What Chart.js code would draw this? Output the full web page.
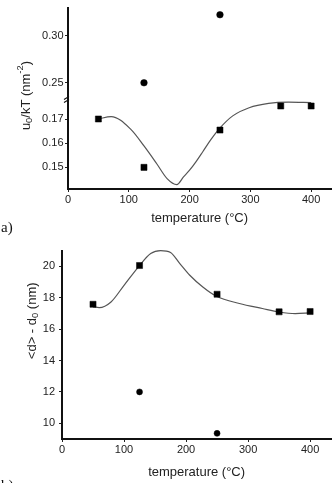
<!DOCTYPE html>
<html>
<head>
<title>Temperature dependence</title>
<script src="https://cdn.jsdelivr.net/npm/chart.js@4.4.0/dist/chart.umd.min.js"></script>
<style>
  body { margin: 0; background: #fff; }
  .wrap { position: absolute; left: 0; width: 336px; }
  .tag { position: absolute; left: 1px; font-family: "Liberation Serif", serif; font-size: 15px; line-height: 15px; color: #111; }
</style>
</head>
<body>
<div class="wrap" style="top:0;height:236px"><canvas id="chartA"></canvas></div>
<div class="wrap" style="top:240px;height:243px"><canvas id="chartB"></canvas></div>
<div class="tag" style="top:220px">a)</div>
<div class="tag" style="top:478px">b)</div>
<script>
// panel a: u0/kT vs temperature
var tempA = [50, 125, 250, 350, 400];
var uSquares = [0.1701, 0.150, 0.1655, 0.1755, 0.1755];
var tempCirclesA = [125, 250];
var uCircles = [0.250, 0.322];
var fitTempA = [50, 71, 103, 125, 146, 163, 179, 190, 200, 211, 222, 235, 249, 271, 298, 330, 363, 400];
var fitA = [0.1701, 0.1711, 0.1659, 0.1589, 0.1515, 0.1453, 0.1428, 0.1460, 0.1488, 0.1525, 0.1566, 0.1615, 0.1661, 0.1714, 0.1748, 0.1766, 0.1771, 0.1769];
var yTicksLoA = [0.15, 0.16, 0.17];
var yTicksHiA = [0.25, 0.30];
var xTicks = [0, 100, 200, 300, 400];

// panel b: <d> - d0 vs temperature
var tempB = [50, 125, 250, 350, 400];
var dSquares = [17.58, 20.05, 18.22, 17.10, 17.12];
var tempCirclesB = [125, 250];
var dCircles = [12.0, 9.36];
var fitTempB = [50, 60, 79, 100, 124, 143, 159, 175, 190, 206, 227, 249, 286, 323, 350, 376, 400];
var fitB = [17.41, 17.37, 17.73, 18.79, 20.0, 20.81, 21.0, 20.88, 20.17, 19.43, 18.68, 18.09, 17.63, 17.31, 17.09, 16.99, 17.03];
var yTicksB = [10, 12, 14, 16, 18, 20];

var FONT = '"Liberation Sans", Arial, sans-serif';
var INK = '#222';

function pts(xs, ys) {
  return xs.map(function(x, i) { return {x: x, y: ys[i]}; });
}

function setTicks(list) {
  return function(scale) {
    scale.ticks = list.map(function(v) { return {value: v}; });
  };
}

// rotated y title with sub/superscripts
function drawRich(ctx, parts, size) {
  var total = 0;
  parts.forEach(function(p) {
    ctx.font = (p[1] ? size * 0.72 : size) + 'px ' + FONT;
    p.w = ctx.measureText(p[0]).width;
    total += p.w;
  });
  var x = -total / 2;
  ctx.textBaseline = 'middle';
  ctx.textAlign = 'left';
  parts.forEach(function(p) {
    ctx.font = (p[1] ? size * 0.72 : size) + 'px ' + FONT;
    var shift = p[1] == 'sub' ? size * 0.3 : (p[1] == 'sup' ? -size * 0.4 : 0);
    ctx.fillText(p[0], x, shift);
    x += p.w;
  });
}

var extras = {
  id: 'extras',
  afterDraw: function(chart, args, opts) {
    var ctx = chart.ctx, area = chart.chartArea;
    ctx.save();
    ctx.fillStyle = INK;
    ctx.translate(area.left - opts.dx, (area.top + area.bottom) / 2 + opts.dy);
    ctx.rotate(-Math.PI / 2);
    drawRich(ctx, opts.parts, 13);
    ctx.restore();
    if (opts.breakAt) {
      var s = chart.scales[opts.breakAt];
      var x = area.left, y = s.top;
      ctx.save();
      ctx.strokeStyle = '#111';
      ctx.lineWidth = 1.1;
      ctx.beginPath();
      ctx.moveTo(x - 4, y + 1); ctx.lineTo(x + 1, y - 2);
      ctx.moveTo(x - 4, y + 4); ctx.lineTo(x + 1, y + 1);
      ctx.stroke();
      ctx.restore();
    }
  }
};

function axisBase() {
  return {
    grid: {display: true, drawOnChartArea: false, drawTicks: true, tickLength: 3, color: INK},
    border: {display: true, color: '#111', width: 2},
    ticks: {color: INK, font: {family: FONT, size: 11}}
  };
}

function xAxis(max, height, titlePad) {
  var a = axisBase();
  a.type = 'linear';
  a.min = 0;
  a.max = max;
  a.afterBuildTicks = setTicks(xTicks);
  a.afterFit = function(s) { s.height = height; };
  a.ticks.padding = 1;
  a.title = {display: true, text: 'temperature (°C)', color: INK,
    font: {family: FONT, size: 13}, padding: {top: 0, bottom: titlePad}};
  return a;
}

function yAxis(min, max, ticks, width, pad, digits) {
  var a = axisBase();
  a.type = 'linear';
  a.position = 'left';
  a.min = min;
  a.max = max;
  a.afterBuildTicks = setTicks(ticks);
  a.afterFit = function(s) { s.width = width; };
  a.ticks.padding = pad;
  a.ticks.callback = function(v) { return v.toFixed(digits); };
  return a;
}

var squareStyle = {pointStyle: 'rect', pointRadius: 4.3, backgroundColor: '#000', borderColor: '#000', borderWidth: 0.5, showLine: false};
var circleStyle = {pointStyle: 'circle', pointRadius: 3.3, backgroundColor: '#000', borderColor: '#000', borderWidth: 0.5, showLine: false};
var fitStyle = {showLine: true, pointRadius: 0, borderColor: '#555', borderWidth: 1.2, cubicInterpolationMode: 'monotone', fill: false};

// panel a
var yLo = yAxis(0.141, 0.1786, yTicksLoA, 68, 1.5, 2);
yLo.stack = 'ax'; yLo.stackWeight = 1;
var yHi = yAxis(0.2333, 0.329, yTicksHiA, 68, 1.5, 2);
yHi.stack = 'ax'; yHi.stackWeight = 1;

new Chart(document.getElementById('chartA'), {
  type: 'scatter',
  data: {
    datasets: [
      Object.assign({data: pts(tempA, uSquares), yAxisID: 'yLo'}, squareStyle),
      Object.assign({data: pts(tempCirclesA, uCircles), yAxisID: 'yHi'}, circleStyle),
      Object.assign({data: pts(fitTempA, fitA), yAxisID: 'yLo'}, fitStyle)
    ]
  },
  options: {
    responsive: true,
    maintainAspectRatio: false,
    animation: false,
    events: [],
    layout: {padding: {top: 5, right: 3, left: 0, bottom: 0}},
    scales: {x: xAxis(433, 47, 10), yLo: yLo, yHi: yHi},
    plugins: {
      legend: {display: false},
      tooltip: {enabled: false},
      extras: {dx: 42, dy: -3, breakAt: 'yLo',
        parts: [['u', ''], ['0', 'sub'], ['/kT (nm', ''], ['-2', 'sup'], [')', '']]}
    }
  },
  plugins: [extras]
});

// panel b
new Chart(document.getElementById('chartB'), {
  type: 'scatter',
  data: {
    datasets: [
      Object.assign({data: pts(tempB, dSquares)}, squareStyle),
      Object.assign({data: pts(tempCirclesB, dCircles)}, circleStyle, {pointRadius: 3}),
      Object.assign({data: pts(fitTempB, fitB), clip: false}, fitStyle)
    ]
  },
  options: {
    responsive: true,
    maintainAspectRatio: false,
    animation: false,
    events: [],
    layout: {padding: {top: 10, right: 3, left: 0, bottom: 0}},
    scales: {x: xAxis(434, 44, 3), y: yAxis(9, 21, yTicksB, 62, 4, 0)},
    plugins: {
      legend: {display: false},
      tooltip: {enabled: false},
      extras: {dx: 30, dy: -24, parts: [['<d> - d', ''], ['0', 'sub'], [' (nm)', '']]}
    }
  },
  plugins: [extras]
});
</script>
</body>
</html>
